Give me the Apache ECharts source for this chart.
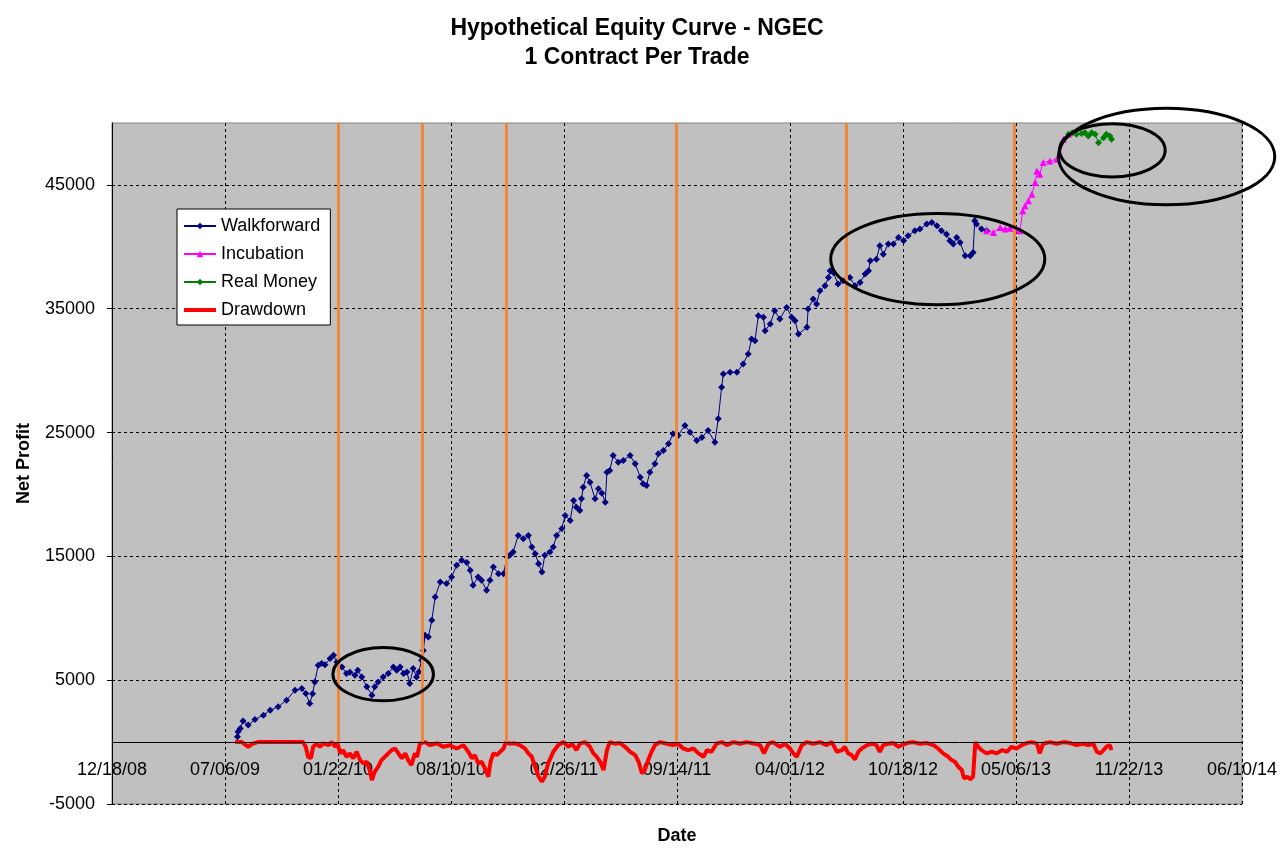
<!DOCTYPE html>
<html><head><meta charset="utf-8">
<script src="https://cdn.jsdelivr.net/npm/echarts@6/dist/echarts.min.js"></script>
<style>html,body{margin:0;padding:0;background:#fff}#c{width:1282px;height:848px}</style>
</head><body><div id="c"></div>
<script>
// Dates are Excel serial day numbers (39800 = 12/18/08)
const yTickValues = [-5000, 5000, 15000, 25000, 35000, 45000];

const walkforwardDates = [40022,40023,40027,40032,40041,40053,40068,40080,40094,40109,40124,40136,40143,40150,40155,40159,40165,40171,40177,40186,40192,40198,40207,40215,40221,40230,40235,40242,40251,40260,40265,40271,40280,40289,40298,40304,40310,40316,40322,40327,40333,40339,40343,40348,40351,40354,40360,40366,40372,40381,40392,40401,40410,40419,40428,40434,40439,40448,40454,40463,40469,40475,40484,40493,40499,40504,40510,40519,40528,40537,40543,40549,40555,40561,40566,40575,40581,40587,40596,40602,40611,40617,40622,40628,40631,40634,40640,40646,40655,40661,40667,40673,40676,40681,40687,40696,40705,40717,40726,40735,40740,40746,40752,40761,40767,40776,40785,40793,40802,40814,40823,40835,40844,40855,40867,40873,40879,40882,40894,40906,40917,40926,40932,40938,40944,40953,40956,40965,40973,40982,40994,41003,41009,41015,41030,41032,41041,41047,41053,41062,41068,41071,41077,41085,41094,41106,41115,41124,41133,41139,41142,41153,41159,41165,41174,41183,41192,41201,41209,41221,41230,41242,41251,41260,41268,41277,41283,41289,41295,41301,41310,41319,41324,41327,41330,41339,41348];
const walkforwardValues = [427,830,1105,1694,1371,1830,2177,2580,2847,3387,4194,4331,3927,3121,3900,4863,6210,6347,6250,6750,7016,6476,6073,5540,5650,5403,5806,5266,4460,3790,4460,4863,5266,5540,6073,5806,6073,5540,5670,4734,5944,5266,5670,6613,7400,8630,8492,9839,11718,12928,12799,13331,14274,14678,14500,13872,12662,13331,13065,12259,13065,14137,13605,13605,14944,15081,15347,16694,16427,16694,15750,15218,14411,13735,15081,15347,15750,16694,17234,18307,17903,19516,18976,18710,19653,20589,21532,20992,19653,20460,20100,19379,21799,21936,23146,22606,22750,23146,22477,21396,20863,20727,21799,22477,23283,23549,24089,24895,24759,25565,25025,24356,24600,25162,24219,26106,28653,29728,29862,29862,30540,31347,32557,32420,34436,34302,33227,33767,34839,34170,35106,34302,34033,32960,33501,34978,35784,35380,36453,36856,37526,38064,37900,36993,37260,37526,36856,37122,37802,38064,38872,39006,40081,39409,40219,40219,40755,40487,40890,41293,41430,41833,41962,41696,41293,41023,40487,40219,40755,40353,39275,39275,39543,42097,41833,41430,41293];

const incubationDates = [41348,41360,41372,41381,41389,41401,41407,41412,41416,41422,41428,41434,41437,41442,41448,41460,41472,41478,41484,41493];
const incubationValues = [41293,41150,41558,41430,41500,41430,41293,42906,43309,43712,44253,45187,46131,45858,46800,46938,47074,47477,48687,49090];

const realMoneyDates = [41493,41500,41507,41516,41522,41528,41534,41540,41546,41555,41560,41566,41569];
const realMoneyValues = [49090,49220,49090,49150,49220,48955,49220,49090,48413,48817,49090,48955,48687];

const drawdownDates = [40018,40030,40041,40048,40058,40097,40138,40143,40147,40152,40156,40162,40168,40174,40183,40189,40195,40199,40204,40209,40215,40221,40227,40233,40239,40245,40251,40257,40260,40265,40271,40277,40283,40289,40295,40301,40307,40313,40319,40324,40330,40336,40340,40345,40354,40363,40375,40386,40398,40410,40422,40431,40437,40442,40448,40454,40460,40466,40470,40475,40481,40487,40493,40497,40504,40513,40522,40531,40537,40543,40549,40555,40561,40566,40572,40581,40590,40599,40608,40614,40622,40628,40637,40646,40652,40658,40664,40670,40676,40681,40690,40699,40708,40717,40726,40732,40738,40743,40749,40755,40761,40770,40782,40793,40802,40811,40820,40829,40838,40847,40853,40861,40870,40879,40888,40900,40912,40923,40938,40947,40954,40962,40970,40982,40991,41000,41006,41012,41021,41030,41041,41053,41065,41074,41083,41092,41097,41103,41109,41115,41121,41127,41136,41145,41153,41159,41165,41174,41183,41192,41198,41207,41218,41230,41242,41254,41262,41271,41280,41286,41292,41298,41304,41308,41314,41319,41324,41328,41333,41339,41348,41357,41366,41375,41384,41392,41401,41410,41419,41428,41437,41442,41448,41460,41472,41484,41496,41507,41519,41528,41537,41543,41549,41555,41560,41566,41569];
const drawdownValues = [0,0,-380,-150,0,0,0,-400,-1186,-1315,-380,-100,-380,-100,-250,0,-380,-100,-911,-650,-1186,-911,-1315,-782,-1452,-1718,-1589,-2395,-3065,-2395,-1992,-1452,-1186,-911,-650,-520,-911,-1315,-911,-1452,-1855,-911,-1186,-105,0,-250,-100,-380,-250,-520,-250,-800,-1315,-1048,-1718,-1589,-2121,-2790,-1589,-911,-1048,-782,-520,0,-130,-100,-240,-520,-911,-1186,-1992,-2790,-3200,-2790,-1718,-782,-240,0,-380,-130,-650,-130,0,-380,-911,-1186,-1589,-2258,-650,0,-130,-80,-380,-782,-1048,-1589,-2524,-2258,-1452,-782,-240,0,-130,-240,-130,-520,-650,-520,-911,-1186,-650,-782,-130,0,-240,0,-130,0,-130,-240,-911,-130,0,-380,-130,-520,-911,-1186,-240,0,-130,0,-240,0,-782,-650,-380,-911,-1048,-1400,-782,-520,-240,-130,-240,-782,-240,-130,-80,-380,-240,-80,0,-130,-80,-240,-520,-911,-1186,-1452,-1589,-1992,-2258,-2927,-2798,-3000,-2798,0,-380,-650,-911,-782,-911,-650,-782,-380,-520,-240,-80,0,-130,-911,-130,0,-130,0,-80,-240,-130,-240,-130,-782,-911,-650,-380,-240,-650];

// Walk-forward re-optimisation dates (orange verticals)
const reoptDates = [40200, 40349, 40497, 40799, 41099, 41397];

// Hand-drawn circles: bounding boxes in data units [date1, value1, date2, value2]
const circleBoxes = [
  [40191, 7638, 40369, 3331],
  [41072, 42688, 41451, 35325],
  [41477, 49946, 41664, 45648],
  [41475, 51188, 41858, 43390]
];

const FONT = '"Liberation Sans", Arial, sans-serif';
function zip(a, b) { return a.map((d, i) => [d, b[i]]); }
function serialLabel(v) {
  const d = new Date(Date.UTC(1899, 11, 30) + Math.round(v) * 86400000);
  const p = n => (n < 10 ? '0' : '') + n;
  return p(d.getUTCMonth() + 1) + '/' + p(d.getUTCDate()) + '/' + p(d.getUTCFullYear() % 100);
}

const chart = echarts.init(document.getElementById('c'), null, { renderer: 'canvas' });
const option = {
  animation: false,
  backgroundColor: '#ffffff',
  textStyle: { fontFamily: FONT },
  grid: { left: 112, right: 40, top: 123, bottom: 44, show: true, backgroundColor: '#C0C0C0', borderColor: '#808080', borderWidth: 1, containLabel: false, outerBoundsMode: 'none' },
  legend: {
    data: [
      { name: 'Walkforward' },
      { name: 'Incubation' },
      { name: 'Real Money' },
      { name: 'Drawdown', icon: 'path://M0,0L32,0L32,4L0,4Z', itemStyle: { color: '#FF0000' } }
    ],
    orient: 'vertical', left: 177, top: 209,
    backgroundColor: '#ffffff', borderColor: '#000000', borderWidth: 1, borderRadius: 0,
    padding: [8, 10, 6, 6], itemWidth: 32, itemHeight: 8, itemGap: 10, selectedMode: false,
    textStyle: { fontSize: 18, color: '#000', fontFamily: FONT }
  },
  xAxis: {
    type: 'value', min: 39800, max: 41800, interval: 200,
    axisLine: { show: false, onZero: false },
    axisTick: { show: false },
    axisLabel: { formatter: serialLabel, fontSize: 18, color: '#000', margin: -43, showMinLabel: true, showMaxLabel: true, fontFamily: FONT },
    splitLine: { show: true, lineStyle: { color: '#000', width: 1, type: [3, 3] } },
    name: 'Date', nameLocation: 'middle', nameGap: 23,
    nameTextStyle: { fontSize: 18, fontWeight: 'bold', color: '#000', fontFamily: FONT }
  },
  yAxis: {
    type: 'value', min: -5000, max: 50000, interval: 5000,
    axisLine: { show: true, onZero: false, lineStyle: { color: '#000', width: 1 } },
    axisTick: { show: true, length: 5, customValues: yTickValues, lineStyle: { color: '#000' } },
    axisLabel: { customValues: yTickValues, formatter: v => String(v), fontSize: 18, color: '#000', margin: 17, fontFamily: FONT },
    splitLine: { show: true, lineStyle: { color: '#000', width: 1, type: [3, 3] } },
    name: 'Net Profit', nameLocation: 'middle', nameGap: 79, nameRotate: 90,
    nameTextStyle: { fontSize: 18, fontWeight: 'bold', color: '#000', fontFamily: FONT }
  },
  series: [
    {
      name: 'guides', type: 'line', data: [], z: 1, silent: true,
      markLine: {
        silent: true, symbol: 'none', label: { show: false }, animation: false,
        lineStyle: { color: '#F0883C', width: 3, type: 'solid' },
        data: [{ yAxis: 0, lineStyle: { color: '#000', width: 1, type: 'solid' } }].concat(
          reoptDates.map(d => [{ coord: [d, 0] }, { coord: [d, 50000] }]))
      }
    },
    {
      name: 'Drawdown', type: 'line', data: zip(drawdownDates, drawdownValues),
      symbol: 'none', z: 3,
      lineStyle: { color: '#FF0000', width: 4 }, itemStyle: { color: '#FF0000' }
    },
    {
      name: 'Walkforward', type: 'line', data: zip(walkforwardDates, walkforwardValues),
      symbol: 'diamond', symbolSize: 7, showSymbol: true, showAllSymbol: true, z: 4,
      lineStyle: { color: '#000080', width: 1 }, itemStyle: { color: '#000080' }
    },
    {
      name: 'Incubation', type: 'line', data: zip(incubationDates, incubationValues),
      symbol: 'triangle', symbolSize: 7, showSymbol: true, showAllSymbol: true, z: 4,
      lineStyle: { color: '#FF00FF', width: 1 }, itemStyle: { color: '#FF00FF' }
    },
    {
      name: 'Real Money', type: 'line', data: zip(realMoneyDates, realMoneyValues),
      symbol: 'diamond', symbolSize: 7, showSymbol: true, showAllSymbol: true, z: 4,
      lineStyle: { color: '#008000', width: 1 }, itemStyle: { color: '#008000' }
    }
  ]
};
chart.setOption(option);

const titleGraphic = {
  type: 'text', id: 'title', x: 637, y: 14, silent: true,
  style: { text: 'Hypothetical Equity Curve - NGEC\n1 Contract Per Trade', font: 'bold 23px ' + FONT, fill: '#000', align: 'center', verticalAlign: 'top', lineHeight: 29 }
};
const ellipses = circleBoxes.map((b, i) => {
  const p1 = chart.convertToPixel({ gridIndex: 0 }, [b[0], b[1]]);
  const p2 = chart.convertToPixel({ gridIndex: 0 }, [b[2], b[3]]);
  return {
    type: 'ellipse', id: 'circle' + i, silent: true, z: 100,
    shape: { cx: (p1[0] + p2[0]) / 2, cy: (p1[1] + p2[1]) / 2, rx: Math.abs(p2[0] - p1[0]) / 2, ry: Math.abs(p2[1] - p1[1]) / 2 },
    style: { fill: null, stroke: '#000', lineWidth: 3 }
  };
});
chart.setOption({ graphic: [titleGraphic].concat(ellipses) });
</script>
</body></html>
